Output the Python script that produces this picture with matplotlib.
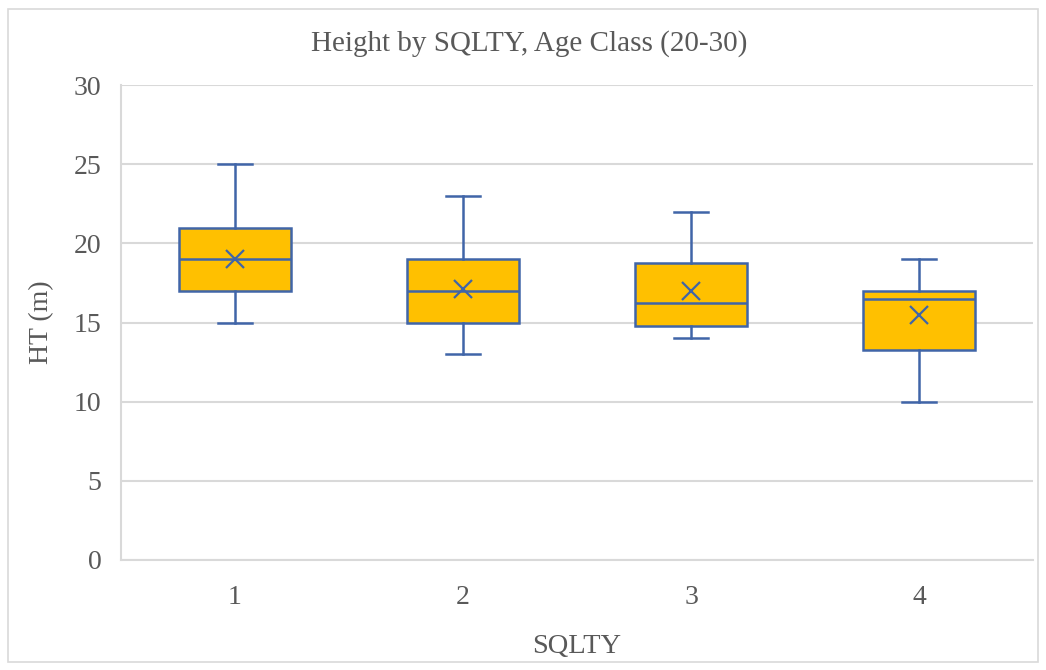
import matplotlib.pyplot as plt
from matplotlib.patches import Rectangle

plt.rcParams['font.family'] = ['Liberation Serif', 'DejaVu Serif']

categories = ['1', '2', '3', '4']
whisker_low = [15, 13, 14, 10]
q1 = [17, 15, 14.8, 13.25]
median = [19, 17, 16.25, 16.5]
q3 = [21, 19, 18.75, 17]
whisker_high = [25, 23, 22, 19]
means = [19, 17.1, 17.0, 15.45]

box_color = '#FFC000'
line_color = '#4065A8'
grid_color = '#D9D9D9'
text_color = '#595959'

stats = []
for i, c in enumerate(categories):
    stats.append({
        'label': c,
        'whislo': whisker_low[i],
        'q1': q1[i],
        'med': median[i],
        'q3': q3[i],
        'whishi': whisker_high[i],
        'mean': means[i],
        'fliers': [],
    })

fig = plt.figure(figsize=(10.46, 6.7), dpi=100)
ax = fig.add_axes([0.1157, 0.1642, 0.8719, 0.7089])

line_props = dict(color=line_color, linewidth=1.8)
ax.bxp(stats, positions=range(1, 5), widths=0.49, patch_artist=True,
       showmeans=True, showfliers=False,
       boxprops=dict(facecolor=box_color, edgecolor=line_color, linewidth=1.8),
       medianprops=line_props, whiskerprops=line_props,
       capprops=line_props, capwidths=0.15,
       meanprops=dict(marker='x', markeredgecolor=line_color, markersize=13,
                      markeredgewidth=1.6),
       zorder=3)

ax.set_xlim(0.5, 4.5)
ax.set_ylim(0, 30)
ax.set_yticks(range(0, 31, 5))
ax.yaxis.grid(True, color=grid_color, linewidth=1.5, zorder=0)
ax.set_axisbelow(True)
for s in ['top', 'right']:
    ax.spines[s].set_visible(False)
for s in ['left', 'bottom']:
    ax.spines[s].set_color(grid_color)
    ax.spines[s].set_linewidth(1.5)
ax.tick_params(length=0, labelsize=20, labelcolor=text_color, pad=14)
ax.tick_params(axis='x', pad=18)

fig.text(529 / 1046, 1 - 44 / 670, 'Height by SQLTY, Age Class (20-30)',
         fontsize=21, color=text_color, ha='center', va='center')
ax.set_ylabel('HT (m)', fontsize=20, color=text_color, labelpad=14)
ax.set_xlabel('SQLTY', fontsize=20.5, color=text_color, labelpad=17)

fig.patches.append(Rectangle((8 / 1046, 8 / 670), 1 - 16 / 1046, 1 - 17 / 670,
                             transform=fig.transFigure, fill=False,
                             edgecolor=grid_color, linewidth=1.2))

fig.savefig('out.png', dpi=100)
